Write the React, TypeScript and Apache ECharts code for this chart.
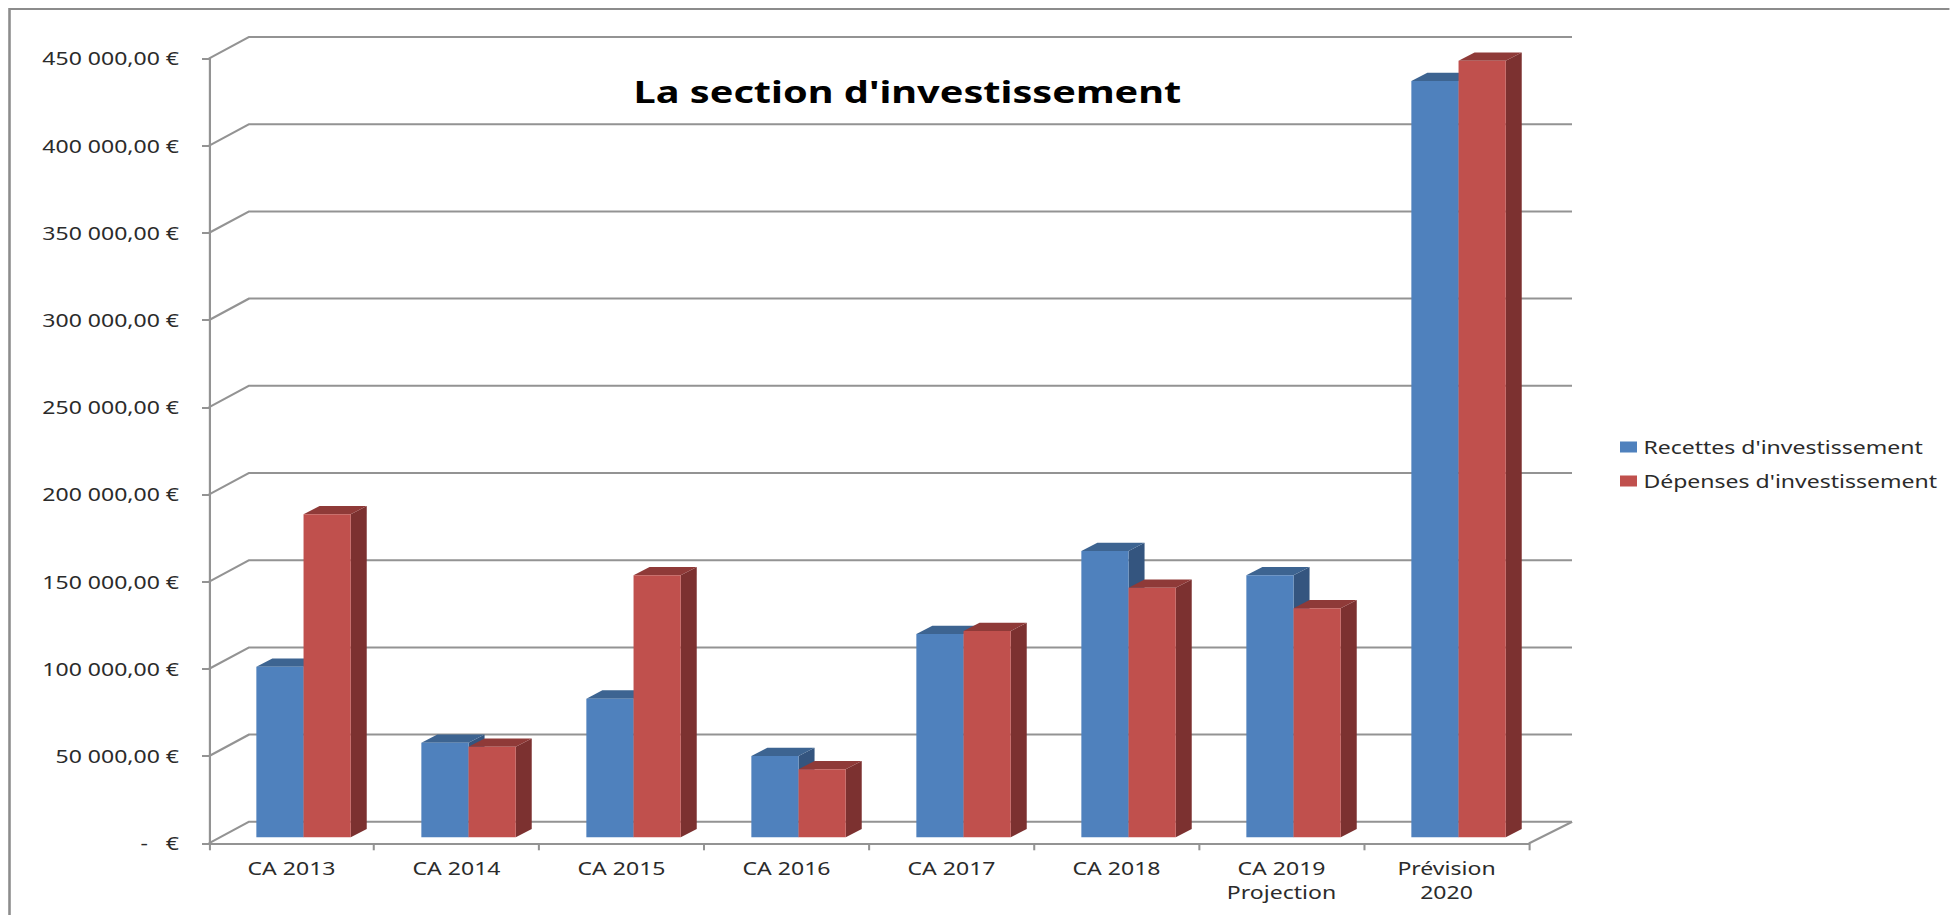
import React, { useEffect, useRef } from "react";
import * as echarts from "echarts";

const categories = ["CA 2013", "CA 2014", "CA 2015", "CA 2016", "CA 2017", "CA 2018", "CA 2019\nProjection", "Prévision\n2020"];
const recettes = [97800, 54200, 79500, 46600, 116600, 164200, 150200, 433700];
const depenses = [185200, 51900, 150200, 39000, 118300, 143100, 131300, 445300];
const yTicks = [0, 50000, 100000, 150000, 200000, 250000, 300000, 350000, 400000, 450000];

// The reference is a picture stretched sideways: the whole chart is drawn narrower, then stretched.
const STRETCH = 1.28;
const sx = (px: number) => px / STRETCH;
const FONT = "'Noto Sans', sans-serif";
const GRID_COLOR = "#939393";

const formatEuro = (v: number) => {
  if (v === 0) return "-   €";
  const s = String(v);
  return s.slice(0, -3) + " " + s.slice(-3) + ",00 €";
};

function frameItem(params: any, api: any) {
  const v = api.value(1);
  const y = api.coord([0, v])[1];
  const cs = params.coordSys;
  const left = cs.x;
  const end = cs.x + cs.width;
  const backRight = end + sx(43);
  const backLeft = left + sx(40);
  const depth = 21.5;
  const lineStyle = { stroke: GRID_COLOR, lineWidth: 2, fill: "none" };
  const children: any[] = [
    {
      type: "polyline",
      shape: { points: [[left, y], [backLeft, y - depth], [backRight, y - depth]] },
      style: lineStyle,
    },
  ];
  if (v === 0) {
    children.push({
      type: "line",
      shape: { x1: end, y1: y, x2: backRight, y2: y - depth },
      style: lineStyle,
    });
  }
  return { type: "group", children };
}

function barRenderer(slot: number, front: string, top: string, side: string) {
  return (params: any, api: any) => {
    const i = api.value(0);
    const v = api.value(1);
    const cs = params.coordSys;
    const pitch = cs.width / categories.length;
    const start = api.coord([i, 0])[0] - pitch / 2;
    const w = pitch * 0.286;
    const x0 = start + pitch * 0.287 + slot * w;
    const x1 = x0 + w;
    const base = api.coord([i, 0])[1] - 6;
    const t = api.coord([i, v])[1] - 6;
    const dx = sx(16);
    const dy = 8.3;
    return {
      type: "group",
      children: [
        {
          type: "polygon",
          shape: { points: [[x1, t], [x1 + dx, t - dy], [x1 + dx, base - dy], [x1, base]] },
          style: { fill: side },
        },
        {
          type: "polygon",
          shape: { points: [[x0, t], [x0 + dx, t - dy], [x1 + dx, t - dy], [x1, t]] },
          style: { fill: top },
        },
        {
          type: "rect",
          shape: { x: x0, y: t, width: w, height: base - t },
          style: { fill: front },
        },
      ],
    };
  };
}

export default function App() {
  const ref = useRef<HTMLDivElement>(null);
  useEffect(() => {
    const chart = echarts.init(ref.current!, undefined, { renderer: "svg" });
    chart.setOption({
      animation: false,
      backgroundColor: "#fff",
      title: {
        text: "La section d'investissement",
        left: sx(901),
        top: 70,
        textAlign: "center",
        textStyle: { fontFamily: FONT, fontSize: 31, fontWeight: "bold", color: "#000" },
      },
      legend: {
        show: true,
        data: ["Recettes d'investissement", "Dépenses d'investissement"],
        orient: "vertical",
        left: sx(1620),
        top: 438,
        padding: 0,
        itemWidth: sx(17),
        itemHeight: 11,
        itemGap: 16,
        icon: "rect",
        textStyle: { fontFamily: FONT, fontSize: 18, color: "#2b2b2b" },
      },
      grid: { left: sx(209), width: sx(1320), top: 58.5, height: 784.8, containLabel: false },
      xAxis: {
        type: "category",
        data: categories,
        axisLine: { show: true, lineStyle: { color: GRID_COLOR, width: 2 } },
        axisTick: { show: true, length: 7, lineStyle: { color: GRID_COLOR, width: 1.6 } },
        axisLabel: {
          interval: 0,
          margin: 13,
          fontFamily: FONT,
          fontSize: 18,
          lineHeight: 24,
          color: "#2b2b2b",
        },
      },
      yAxis: {
        type: "value",
        min: 0,
        max: 450000,
        interval: 50000,
        splitLine: { show: false },
        axisLine: { show: true, lineStyle: { color: GRID_COLOR, width: 1.7 } },
        axisTick: { show: true, length: sx(7), lineStyle: { color: GRID_COLOR, width: 2 } },
        axisLabel: {
          margin: sx(30),
          fontFamily: FONT,
          fontSize: 18,
          color: "#2b2b2b",
          formatter: formatEuro,
        },
      },
      graphic: [
        {
          type: "polyline",
          shape: { points: [[sx(9.5), 915], [sx(9.5), 9], [sx(1950), 9]] },
          style: { stroke: "#8c8c8c", lineWidth: 2, fill: "none" },
        },
      ],
      series: [
        {
          type: "custom",
          silent: true,
          z: 1,
          renderItem: frameItem,
          data: yTicks.map((v) => [0, v]),
          encode: { x: 0, y: 1 },
        },
        {
          type: "custom",
          name: "Recettes d'investissement",
          z: 2,
          itemStyle: { color: "#4F81BD" },
          renderItem: barRenderer(0, "#4F81BD", "#3D6491", "#34557F"),
          data: recettes.map((v, i) => [i, v]),
          encode: { x: 0, y: 1 },
        },
        {
          type: "custom",
          name: "Dépenses d'investissement",
          z: 2,
          itemStyle: { color: "#C0504D" },
          renderItem: barRenderer(1, "#C0504D", "#8F3A38", "#7C3130"),
          data: depenses.map((v, i) => [i, v]),
          encode: { x: 0, y: 1 },
        },
      ],
    });
    return () => chart.dispose();
  }, []);
  return (
    <div
      ref={ref}
      style={{
        position: "fixed",
        left: 0,
        top: 0,
        width: 1950 / STRETCH,
        height: 915,
        transform: `scaleX(${STRETCH})`,
        transformOrigin: "0 0",
      }}
    />
  );
}
